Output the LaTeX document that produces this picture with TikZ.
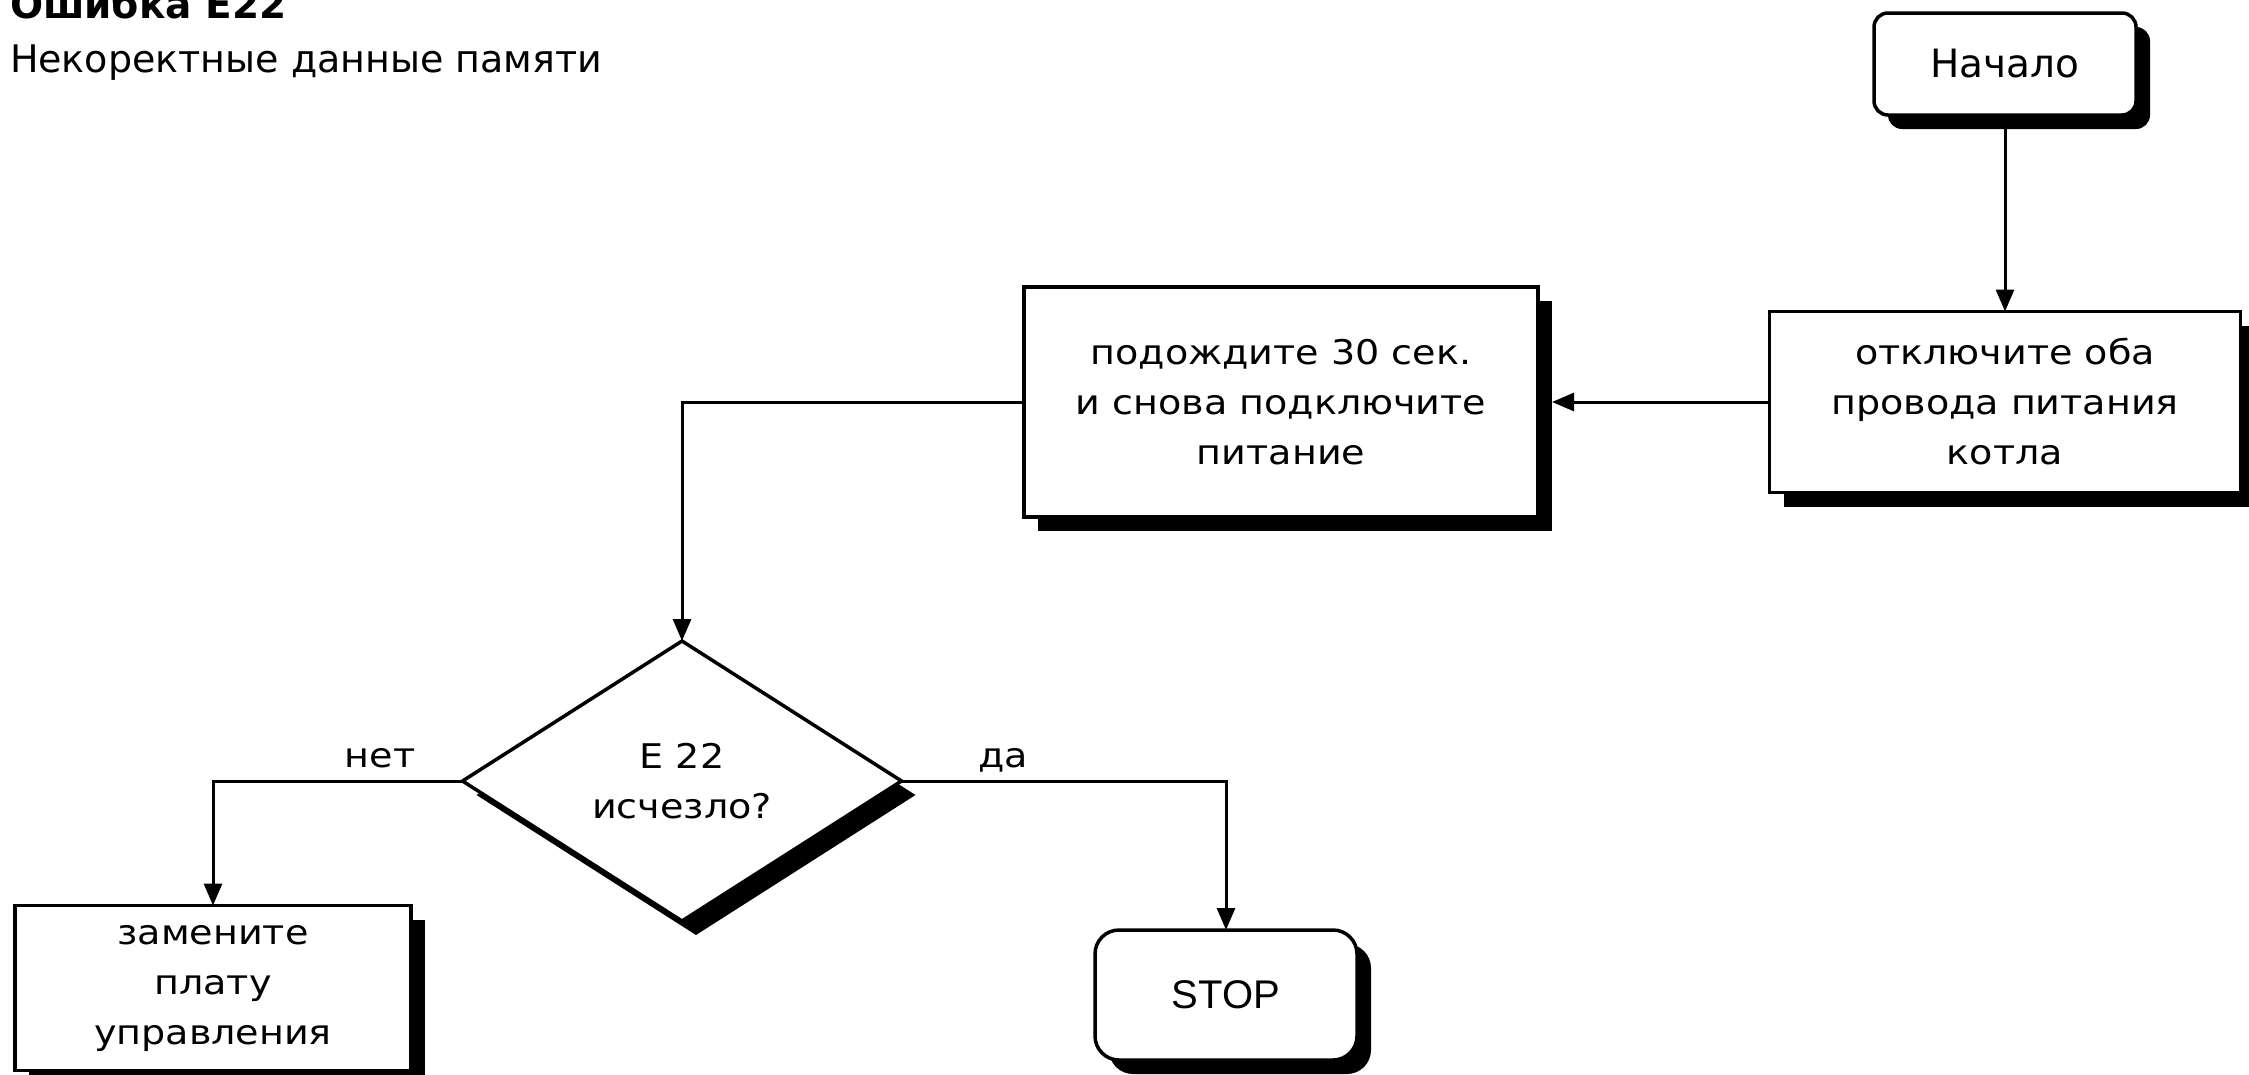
\documentclass[tikz,border=0pt]{standalone}
\usepackage{fontspec}
\setmainfont{DejaVu Sans}
\newfontfamily\bodyfont{DejaVu Sans}[FakeStretch=1.12]
\newfontfamily\stopfont{Liberation Sans}
\usetikzlibrary{shapes.geometric,arrows.meta,shadows}

\begin{document}
\begin{tikzpicture}[x=1pt,y=-1pt,
  every node/.style={inner sep=0pt, outer sep=0pt},
  txt/.style={font=\bodyfont\fontsize{34}{50}\selectfont, align=center},
  shd/.style={drop shadow={shadow xshift=14pt, shadow yshift=-14pt, fill=black, opacity=1}},
  box/.style={txt, shd, draw, line width=3.5pt, fill=white, rectangle},
  term/.style={box, rounded corners=14pt},
  decision/.style={txt, shd, draw, line width=3.5pt, fill=white, diamond},
  conn/.style={line width=3pt, -{Triangle[length=22pt,width=18pt]}},
  lbl/.style={txt}
]
\useasboundingbox (0,0) rectangle (2249,1074);
\fill[white] (0,0) rectangle (2249,1074);

\node[anchor=base west, font=\bfseries\fontsize{39}{46}\selectfont] (title) at (10,18) {Ошибка E22};
\node[anchor=base west, font=\fontsize{38}{46}\selectfont] (sub) at (10,72) {Некоректные данные памяти};

\node[term, minimum width=262pt, minimum height=102pt, font=\normalfont\fontsize{39}{46}\selectfont] (start) at (2005,64) {Начало};
\node[box, minimum width=471pt, minimum height=181pt] (off) at (2005,402) {отключите оба\\провода питания\\котла};
\node[box, minimum width=514pt, minimum height=230pt] (wait) at (1281,402) {подождите 30 сек.\\и снова подключите\\питание};
\node[decision, minimum width=439pt, minimum height=280pt] (dec) at (682,781) {E 22\\исчезло?};
\node[box, minimum width=396pt, minimum height=165pt] (rep) at (213,988) {замените\\плату\\управления};
\node[term, rounded corners=24pt, minimum width=262pt, minimum height=130pt, font=\stopfont\fontsize{40}{48}\selectfont] (stop) at (1226,995) {STOP};

\draw[conn] (start) -- (off.north);
\draw[conn] (off.west) -- ([xshift=14pt]wait.east);
\draw[conn] (wait.west) -| (dec.north);
\draw[conn] (dec.west) -| node[lbl, pos=0.165, anchor=base, yshift=14pt] {нет} (rep.north);
\draw[conn] (dec.east) -| node[lbl, pos=0.157, anchor=base, yshift=14pt] {да} (stop.north);
\end{tikzpicture}
\end{document}
